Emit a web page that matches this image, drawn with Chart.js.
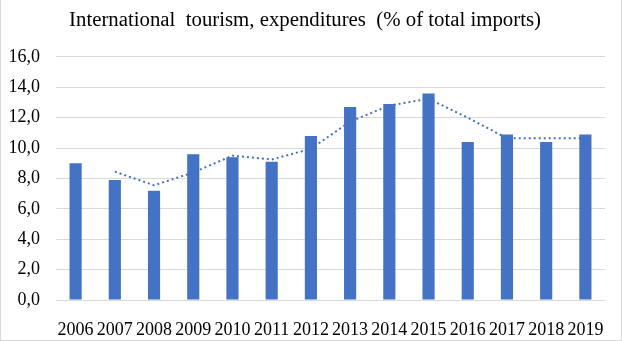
<!DOCTYPE html>
<html>
<head>
<meta charset="utf-8">
<script src="https://cdn.jsdelivr.net/npm/chart.js@4/dist/chart.umd.min.js"></script>
<style>
  html, body { margin: 0; padding: 0; background: #fff; }
  #wrap { position: relative; width: 622px; height: 341px; box-sizing: border-box; border: 1px solid #d9d9d9; border-top: none; }
</style>
</head>
<body>
<div id="wrap"><canvas id="tourchart" width="620" height="340"></canvas></div>
<script>
const years = ['2006', '2007', '2008', '2009', '2010', '2011', '2012', '2013', '2014', '2015', '2016', '2017', '2018', '2019'];
const expenditures = [9.0, 7.9, 7.2, 9.6, 9.4, 9.1, 10.8, 12.7, 12.9, 13.6, 10.4, 10.9, 10.4, 10.9];
const trendValues = [null, 8.45, 7.55, 8.4, 9.5, 9.25, 9.95, 11.75, 12.8, 13.25, 12.0, 10.65, 10.65, 10.65];
const yTicks = [0, 2, 4, 6, 8, 10, 12, 14, 16];

const blue = '#4472C4';
const serif = "'Liberation Serif', 'Times New Roman', serif";

// data
const tourdata = {
  labels: years,
  datasets: [{
    type: 'line',
    label: 'Trend',
    data: trendValues,
    borderColor: blue,
    borderWidth: 2,
    borderDash: [2, 3],
    pointRadius: 0,
    fill: false,
    order: 0
  }, {
    type: 'bar',
    label: 'International tourism, expenditures',
    data: expenditures,
    backgroundColor: blue,
    barPercentage: 1,
    categoryPercentage: 0.31,
    order: 1
  }]
};

// config
const tourconfig = {
  data: tourdata,
  options: {
    responsive: false,
    animation: false,
    layout: { padding: { left: 4, right: 16, top: 0, bottom: 0 } },
    plugins: {
      legend: { display: false },
      tooltip: { enabled: false },
      title: {
        display: true,
        text: 'International  tourism, expenditures  (% of total imports)',
        color: '#000',
        font: { family: serif, size: 20.8, weight: 'normal' },
        padding: { top: 8, bottom: 24 }
      }
    },
    scales: {
      x: {
        grid: { display: false },
        border: { display: false },
        afterFit: (axis) => { axis.height = 40; },
        ticks: { color: '#000', font: { family: serif, size: 18 }, maxRotation: 0, autoSkip: false, padding: 11 }
      },
      y: {
        min: 0,
        max: 16,
        afterBuildTicks: (axis) => { axis.ticks = yTicks.map(v => ({ value: v })); },
        afterFit: (axis) => { axis.width = 51; },
        grid: { color: '#d9d9d9', lineWidth: 1, drawTicks: false },
        border: { display: false },
        ticks: {
          color: '#000',
          font: { family: serif, size: 18 },
          padding: 16,
          callback: (v) => v.toFixed(1).replace('.', ',')
        }
      }
    }
  }
};

// render init block
const tourchart = new Chart(document.getElementById('tourchart'), tourconfig);
</script>
</body>
</html>
